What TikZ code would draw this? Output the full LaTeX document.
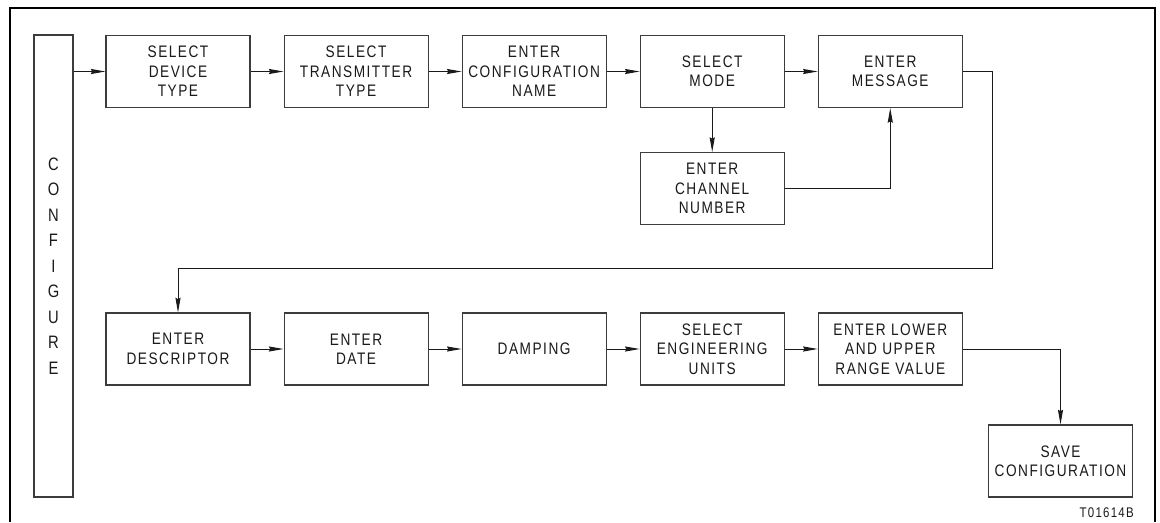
\documentclass[tikz,border=0pt]{standalone}
\usepackage{fontspec}
\setmainfont{Liberation Sans}[LetterSpace=9, FakeStretch=0.82]
\usetikzlibrary{positioning, arrows.meta}
\definecolor{ink}{HTML}{1A1A1A}
\definecolor{edge}{HTML}{3C3C3C}
\tikzset{
  blk/.style={draw=edge, line width=0.8pt, fill=white, text=ink, align=center,
    font=\fontsize{12.5pt}{14.6pt}\selectfont, inner sep=2pt,
    minimum width=108pt, minimum height=54pt},
  bar/.style={blk, minimum width=29.25pt, minimum height=346.5pt,
    font=\fontsize{13.5pt}{19.1pt}\selectfont},
  flow/.style={-{Stealth[length=11pt, width=3.8pt, inset=1pt]}, line width=0.75pt, color=ink},
  lbl/.style={font=\fontsize{10.5pt}{12pt}\selectfont, text=ink, inner sep=0pt},
}

\begin{document}
\begin{tikzpicture}[x=0.75pt, y=0.75pt, node distance=33pt and 24.75pt]
  \useasboundingbox (0,0) rectangle (1160,-522);
  % frame, open at the bottom
  \draw[line width=0.8pt] (10,-522) -- (10,-8) -- (1155,-8) -- (1155,-522);
  \node[bar] (cfg) at (53.5,-266) {C\\O\\N\\F\\I\\G\\U\\R\\E};
  % top row
  \node[blk] (dev) at (178,-71.5) {SELECT\\DEVICE\\TYPE};
  \node[blk, right=of dev] (xmtr) {SELECT\\TRANSMITTER\\TYPE};
  \node[blk, right=of xmtr] (cname) {ENTER\\CONFIGURATION\\NAME};
  \node[blk, right=of cname] (mode) {SELECT\\MODE};
  \node[blk, right=of mode] (msg) {ENTER\\MESSAGE};
  \node[blk, below=of mode] (chan) {ENTER\\CHANNEL\\NUMBER};
  % bottom row
  \node[blk] (desc) at (178,-349) {ENTER\\DESCRIPTOR};
  \node[blk, right=of desc] (date) {ENTER\\DATE};
  \node[blk, right=of date] (damp) {DAMPING};
  \node[blk, right=of damp] (units) {SELECT\\ENGINEERING\\UNITS};
  \node[blk, right=of units] (range) {ENTER LOWER\\AND UPPER\\RANGE VALUE};
  \node[blk] (save) at (1060.5,-461) {SAVE\\CONFIGURATION};
  \node[lbl, anchor=east] (tag) at (1134,-513) {T01614B};
  \coordinate (wrap) at (992,-268);
  \draw[flow] (cfg.east |- dev.west) -- (dev.west);
  \draw[flow] (dev)--(xmtr); \draw[flow] (xmtr)--(cname);
  \draw[flow] (cname)--(mode); \draw[flow] (mode)--(msg);
  \draw[flow] (mode)--(chan); \draw[flow] (chan.east) -| (msg.south);
  \draw[flow] (msg.east) -| (wrap) -| (desc.north);
  \draw[flow] (desc)--(date); \draw[flow] (date)--(damp);
  \draw[flow] (damp)--(units); \draw[flow] (units)--(range);
  \draw[flow] (range.east) -| (save.north);
\end{tikzpicture}
\end{document}
